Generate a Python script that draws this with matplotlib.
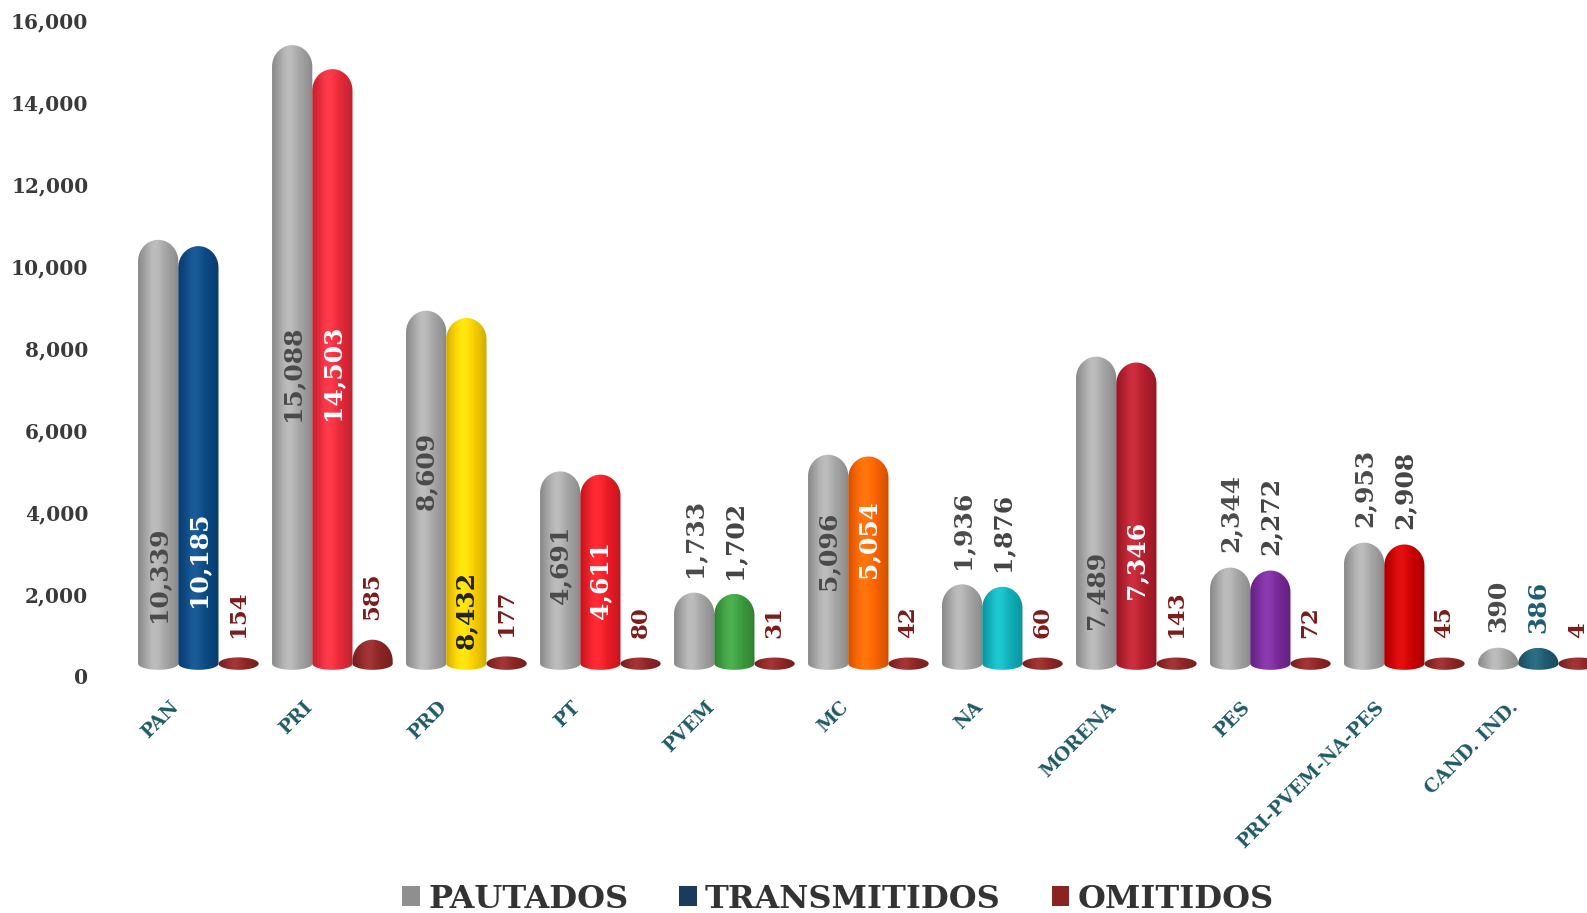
import numpy as np
import matplotlib.pyplot as plt
from matplotlib.path import Path
from matplotlib.patches import PathPatch, Patch
from matplotlib.colors import to_rgb
from matplotlib.transforms import ScaledTranslation, blended_transform_factory

plt.rcParams["font.family"] = "DejaVu Serif"
plt.rcParams["font.weight"] = "bold"

# Data
parties = ["PAN", "PRI", "PRD", "PT", "PVEM", "MC", "NA", "MORENA", "PES",
           "PRI-PVEM-NA-PES", "CAND. IND."]
pautados = [10339, 15088, 8609, 4691, 1733, 5096, 1936, 7489, 2344, 2953, 390]
transmitidos = [10185, 14503, 8432, 4611, 1702, 5054, 1876, 7346, 2272, 2908, 386]
omitidos = [154, 585, 177, 80, 31, 42, 60, 143, 72, 45, 4]

# Styling
paut_color = "#a9a9a9"
omit_color = "#902525"
trans_colors = ["#0b4a86", "#ec2a3a", "#ffd400", "#ee1c25", "#3c9e3f", "#ff6400",
                "#10b4be", "#b81e2d", "#7a2a9c", "#d00000", "#1e5d72"]
trans_label_colors = ["white", "white", "#222222", "white", "#444444", "white",
                      "#444444", "white", "#444444", "#444444", "#1e5d72"]
# where the label sits inside the bar (fraction of value), None = above the bar
paut_frac = [0.24, 0.49, 0.58, 0.58, None, 0.60, None, 0.28, None, None, None]
trans_frac = [0.28, 0.51, 0.19, 0.51, None, 0.66, None, 0.385, None, None, None]

floor = 300      # 3D floor offset of the bars
rb = 150         # half height of the base ellipse
rt = 520         # height of the dome
width = 0.30


def shade_img(color, n=80):
    t = np.linspace(0, 1, n)
    hi = np.exp(-((t - 0.4) / 0.28) ** 2)
    edge = 0.80 + 0.20 * np.sin(np.pi * t) ** 0.5
    rgb = np.array(to_rgb(color))
    img = rgb[None, :] * (edge * (0.95 + 0.08 * hi))[:, None] + 0.06 * hi[:, None] ** 2
    return np.clip(img, 0, 1)[None, :, :]


def cylinder(ax, xc, value, color):
    cap = float(np.clip(value, rb, rt))
    body = floor + max(value - cap, 0)
    th = np.linspace(np.pi, 2 * np.pi, 40)
    bottom = np.c_[xc + width / 2 * np.cos(th), floor + rb * np.sin(th)]
    th2 = np.linspace(0, np.pi, 40)
    top = np.c_[xc + width / 2 * np.cos(th2), body + cap * np.sin(th2)]
    verts = np.vstack([bottom, top, bottom[:1]])
    patch = PathPatch(Path(verts, closed=True), transform=ax.transData)
    top_y = body + cap
    im = ax.imshow(shade_img(color), extent=[xc - width / 2, xc + width / 2, floor - rb, top_y],
                   aspect="auto", interpolation="bicubic", zorder=2)
    im.set_clip_path(patch)
    return top_y


fig = plt.figure(figsize=(15.87, 9.13), dpi=100)
ax = fig.add_axes([105 / 1587, 0.2443, 1 - 105 / 1587, 0.7447])

x = np.arange(len(parties))
label_kw = dict(rotation=90, ha="center", fontsize=18, fontweight="bold", zorder=5)
omit_kw = dict(label_kw, fontsize=16.5)

for i in x:
    # pautados
    top = cylinder(ax, i - width, pautados[i], paut_color)
    txt = f"{pautados[i]:,}"
    if paut_frac[i] is None:
        ax.annotate(txt, (i - width, top), xytext=(0, 11), textcoords="offset points",
                    va="bottom", color="#4a4a4a", **label_kw)
    else:
        ax.text(i - width, paut_frac[i] * pautados[i], txt, va="center", color="#4a4a4a", **label_kw)

    # transmitidos
    top = cylinder(ax, i, transmitidos[i], trans_colors[i])
    txt = f"{transmitidos[i]:,}"
    if trans_frac[i] is None:
        ax.annotate(txt, (i, top), xytext=(0, 11), textcoords="offset points",
                    va="bottom", color=trans_label_colors[i], **label_kw)
    else:
        ax.text(i, trans_frac[i] * transmitidos[i], txt, va="center",
                color=trans_label_colors[i], **label_kw)

    # omitidos
    top = cylinder(ax, i + width, omitidos[i], omit_color)
    ax.annotate(f"{omitidos[i]:,}", (i + width, top), xytext=(0, 14), textcoords="offset points",
                va="bottom", color="#7a1c1c", **omit_kw)

# category labels, drawn as text so they can be nudged left of the group centre
cat_trans = blended_transform_factory(ax.transData, ax.transAxes) + \
    ScaledTranslation(-0.29, -0.08, fig.dpi_scale_trans)
for i, name in zip(x, parties):
    ax.text(i, 0, name, transform=cat_trans, rotation=45, rotation_mode="anchor",
            ha="right", va="top", fontsize=13.5, fontweight="bold", color="#1f5a66")

ax.set_xlim(-0.697, 10.363)
ax.set_ylim(-341, 16244)
ax.set_yticks(range(0, 16001, 2000))
ax.set_yticklabels([f"{v:,}" for v in range(0, 16001, 2000)], fontsize=14.5,
                   fontweight="bold", color="#3a3a3a")
ax.set_xticks([])
ax.tick_params(axis="both", length=0)
ax.tick_params(axis="y", pad=12)
for s in ax.spines.values():
    s.set_visible(False)

handles = [Patch(facecolor="#8f8f8f"), Patch(facecolor="#1b3a5e"), Patch(facecolor="#8b2323")]
fig.legend(handles, ["PAUTADOS", "TRANSMITIDOS", "OMITIDOS"], loc="center",
           bbox_to_anchor=(0.528, 0.0153), ncol=3, frameon=False,
           prop={"family": "DejaVu Serif", "weight": "bold", "size": 23},
           labelcolor="#333333", handlelength=0.55, handleheight=0.6,
           handletextpad=0.25, columnspacing=1.6)

fig.savefig("out.png", dpi=100, facecolor="white")
